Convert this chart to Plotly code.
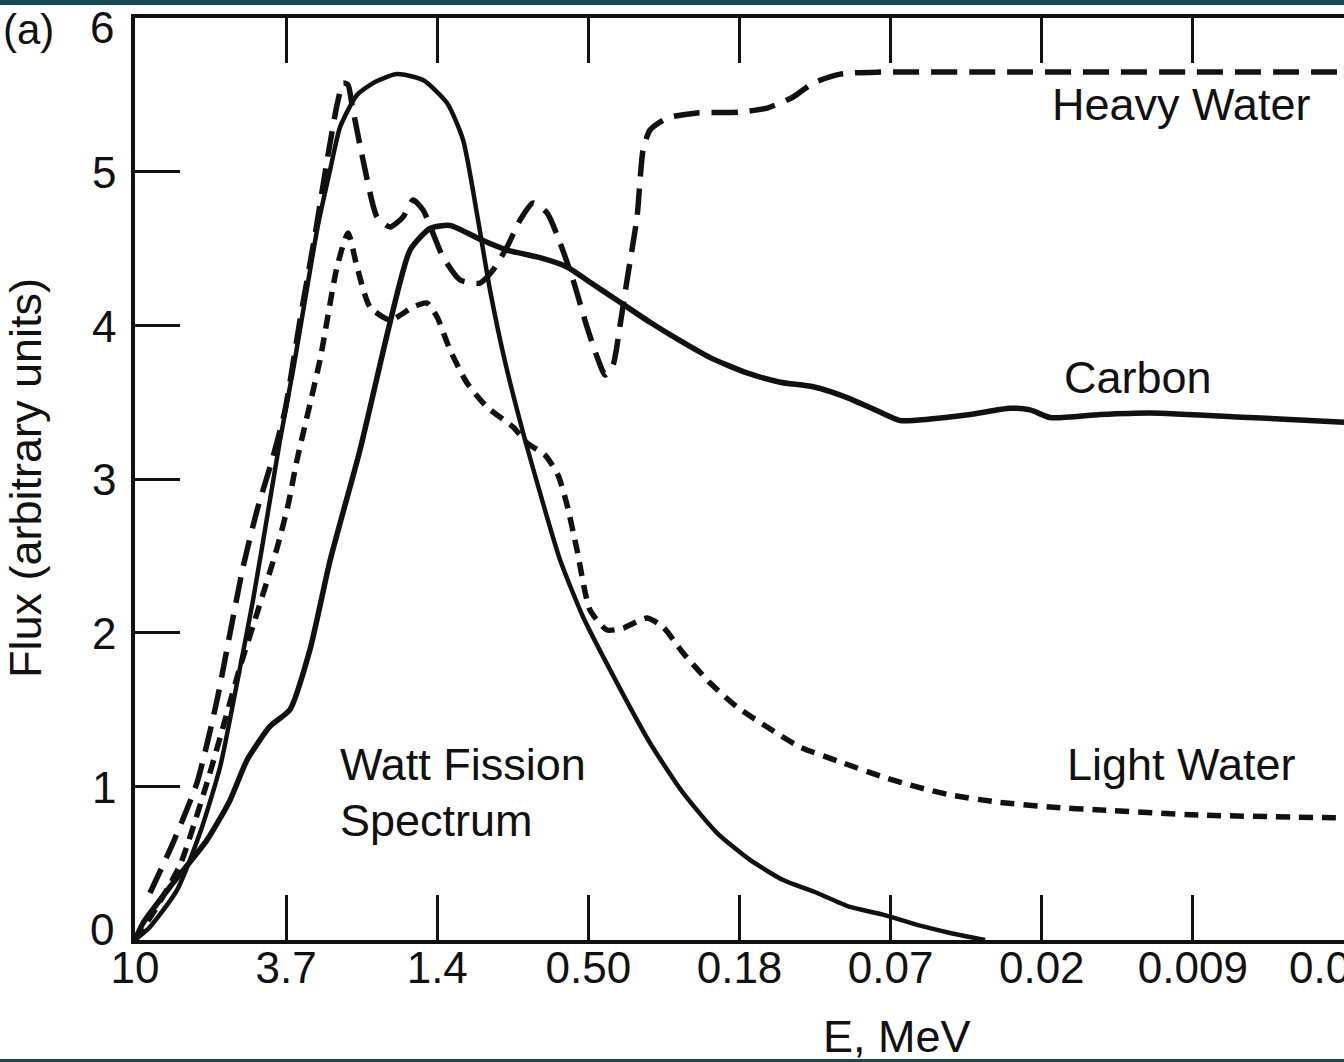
import plotly.graph_objects as go

# x axis is a lethargy-like index: one unit per labelled energy tick
tick_pos = [0, 1, 2, 3, 4, 5, 6, 7, 8]
tick_labels = ['10', '3.7', '1.4', '0.50', '0.18', '0.07', '0.02', '0.009', '0.003']
flux_ticks = [0, 1, 2, 3, 4, 5, 6]
flux_labels = ['', '1', '2', '3', '4', '5', '']  # 0 and 6 are set off the corners below

# Watt fission spectrum (solid)
watt_u = [0, 0.099, 0.278, 0.430, 0.563, 0.675, 0.781, 0.893, 0.960, 1.046, 1.125, 1.211,
          1.291, 1.357, 1.469, 1.588, 1.734, 1.906, 2.065, 2.171, 2.270, 2.349, 2.449,
          2.581, 2.713, 2.813, 2.965, 3.190, 3.408, 3.627, 3.852, 4.070, 4.289, 4.514,
          4.732, 4.950, 5.175, 5.394, 5.625]
watt_flux = [0, 0.085, 0.325, 0.696, 1.126, 1.672, 2.212, 2.863, 3.254, 3.709, 4.165, 4.653,
             5.011, 5.290, 5.499, 5.583, 5.635, 5.596, 5.447, 5.206, 4.685, 4.230, 3.761,
             3.254, 2.798, 2.473, 2.102, 1.672, 1.282, 0.957, 0.696, 0.521, 0.390, 0.306,
             0.215, 0.165, 0.098, 0.046, 0.0]

# Carbon moderator (solid)
carbon_u = [0, 0.053, 0.251, 0.476, 0.629, 0.741, 0.893, 1.026, 1.158, 1.291, 1.489, 1.688,
            1.820, 1.952, 2.085, 2.283, 2.462, 2.680, 2.859, 3.011, 3.210, 3.408, 3.607,
            3.806, 4.050, 4.269, 4.487, 4.712, 4.897, 5.063, 5.261, 5.526, 5.791, 5.923,
            6.056, 6.386, 6.717, 7.379, 8.0]
carbon_flux = [0, 0.11, 0.37, 0.65, 0.91, 1.17, 1.39, 1.50, 1.89, 2.47, 3.19, 4.02,
               4.49, 4.63, 4.65, 4.56, 4.49, 4.44, 4.38, 4.28, 4.15, 4.02, 3.90,
               3.79, 3.69, 3.63, 3.60, 3.53, 3.45, 3.38, 3.39, 3.42, 3.46, 3.45,
               3.40, 3.42, 3.43, 3.40, 3.37]

# Heavy water moderator (long dashes)
heavy_u = [0.099, 0.251, 0.410, 0.543, 0.629, 0.715, 0.808, 0.913, 0.993, 1.092, 1.191, 1.277,
           1.337, 1.377, 1.410, 1.436, 1.509, 1.602, 1.688, 1.774, 1.840, 1.906, 2.038,
           2.151, 2.283, 2.369, 2.462, 2.548, 2.634, 2.727, 2.813, 2.899, 2.991, 3.058,
           3.111, 3.163, 3.210, 3.256, 3.322, 3.362, 3.408, 3.521, 3.719, 4.004, 4.183,
           4.355, 4.487, 4.666, 4.930, 5.725, 8.0]
heavy_flux = [0.306, 0.631, 1.022, 1.562, 1.998, 2.427, 2.798, 3.143, 3.449, 4.035, 4.588, 5.108,
              5.434, 5.577, 5.564, 5.434, 5.076, 4.705, 4.640, 4.705, 4.815, 4.750, 4.445,
              4.295, 4.275, 4.360, 4.510, 4.685, 4.796, 4.731, 4.536, 4.295, 3.989, 3.794,
              3.677, 3.742, 4.002, 4.295, 4.705, 5.141, 5.271, 5.349, 5.382, 5.388, 5.414,
              5.486, 5.577, 5.635, 5.648, 5.648, 5.648]

# Light water moderator (short dashes)
light_u = [0, 0.132, 0.298, 0.476, 0.596, 0.695, 0.814, 0.940, 1.013, 1.072, 1.224, 1.337,
           1.410, 1.469, 1.555, 1.688, 1.840, 1.932, 1.999, 2.085, 2.197, 2.330, 2.502,
           2.594, 2.713, 2.799, 2.859, 2.925, 3.011, 3.124, 3.230, 3.388, 3.494, 3.627,
           3.806, 3.984, 4.183, 4.401, 4.686, 4.950, 5.175, 5.394, 5.705, 6.056, 6.386,
           7.048, 8.0]
light_flux = [0, 0.195, 0.488, 1.022, 1.432, 1.777, 2.147, 2.551, 2.831, 3.124, 3.774, 4.380,
              4.601, 4.380, 4.119, 4.035, 4.119, 4.145, 4.054, 3.839, 3.625, 3.468, 3.338,
              3.234, 3.156, 3.026, 2.831, 2.538, 2.147, 2.017, 2.030, 2.095, 2.037, 1.868,
              1.672, 1.516, 1.386, 1.256, 1.152, 1.061, 0.996, 0.944, 0.898, 0.865, 0.846,
              0.813, 0.794]

INK = '#111111'
FONT = 'Liberation Sans, Arial, Helvetica, sans-serif'

fig = go.Figure()

curves = [
    (watt_u, watt_flux, 4.5, 'solid'),
    (carbon_u, carbon_flux, 5.5, 'solid'),
    (heavy_u, heavy_flux, 5.5, '26px,12px'),
    (light_u, light_flux, 5.5, '14px,9px'),
]
for u, flux, w, dash in curves:
    fig.add_trace(go.Scatter(
        x=u, y=flux,
        mode='lines',
        line=dict(color=INK, width=w, dash=dash, shape='spline', smoothing=0.6),
        showlegend=False,
        hoverinfo='skip',
    ))

# curve labels
labels = [
    ('Heavy Water', 6.056, 5.44),
    ('Carbon', 6.135, 3.66),
    ('Light Water', 6.155, 1.14),
    ('Watt Fission', 1.343, 1.14),
    ('Spectrum', 1.343, 0.78),
]
for txt, xu, yf in labels:
    fig.add_annotation(x=xu, y=yf, text=txt, showarrow=False,
                       xanchor='left', yanchor='middle',
                       font=dict(size=45, color=INK, family=FONT))

# corner flux labels, nudged off the frame corners like the original
for val, shift in [(flux_ticks[0], 11), (flux_ticks[-1], -9)]:
    fig.add_annotation(x=-0.0157, y=val, xref='paper', yref='y', text=str(val),
                       showarrow=False, xanchor='right', yanchor='middle', yshift=shift,
                       font=dict(size=44, color=INK, family=FONT))

# axis titles and panel tag as free text
fig.add_annotation(x=0.630, y=-0.105, xref='paper', yref='paper', text='E, MeV',
                   showarrow=False, xanchor='center', yanchor='middle',
                   font=dict(size=45, color=INK, family=FONT))
fig.add_annotation(x=-0.091, y=0.501, xref='paper', yref='paper', text='Flux (arbitrary units)',
                   showarrow=False, textangle=-90, xanchor='center', yanchor='middle',
                   font=dict(size=45, color=INK, family=FONT))
fig.add_annotation(x=-0.1108, y=0.987, xref='paper', yref='paper', text='(a)',
                   showarrow=False, xanchor='left', yanchor='middle',
                   font=dict(size=42, color=INK, family=FONT))

# dark page strips at top and bottom of the scan
fig.add_shape(type='rect', xref='paper', yref='paper', x0=-0.12, x1=1.01, y0=1.0141, y1=1.03,
              fillcolor='#1c4850', line_width=0, layer='above')
fig.add_shape(type='rect', xref='paper', yref='paper', x0=-0.12, x1=1.01, y0=-0.14, y1=-0.1291,
              fillcolor='#1c4850', line_width=0, layer='above')

fig.update_layout(
    width=1344,
    height=1062,
    margin=dict(l=135, r=0, t=18, b=122),
    plot_bgcolor='white',
    paper_bgcolor='white',
    showlegend=False,
    font=dict(family=FONT, size=44, color=INK),
    xaxis=dict(
        range=[0, 8],
        tickvals=tick_pos,
        ticktext=tick_labels,
        ticks='inside',
        ticklen=45,
        tickwidth=2.5,
        tickcolor=INK,
        showline=True,
        linecolor=INK,
        linewidth=3.5,
        mirror='ticks',  # top frame line with ticks
        showgrid=False,
        zeroline=False,
        automargin=False,
        ticklabeloverflow='allow',
        ticklabelstandoff=-14,
        tickfont=dict(size=44, color=INK, family=FONT),
    ),
    yaxis=dict(
        range=[0, 6],
        tickvals=flux_ticks,
        ticktext=flux_labels,
        ticks='inside',
        ticklen=45,
        tickwidth=2.5,
        tickcolor=INK,
        showline=True,
        linecolor=INK,
        linewidth=3.5,
        showgrid=False,
        zeroline=False,
        automargin=False,
        ticklabelstandoff=6,
        ticklabelshift=1,
        tickfont=dict(size=44, color=INK, family=FONT),
    ),
)

# drop the default body margin so the figure sits at the page corner
fig.write_html("out.html", config={'displayModeBar': False},
               post_script="document.body.style.margin='0';")
